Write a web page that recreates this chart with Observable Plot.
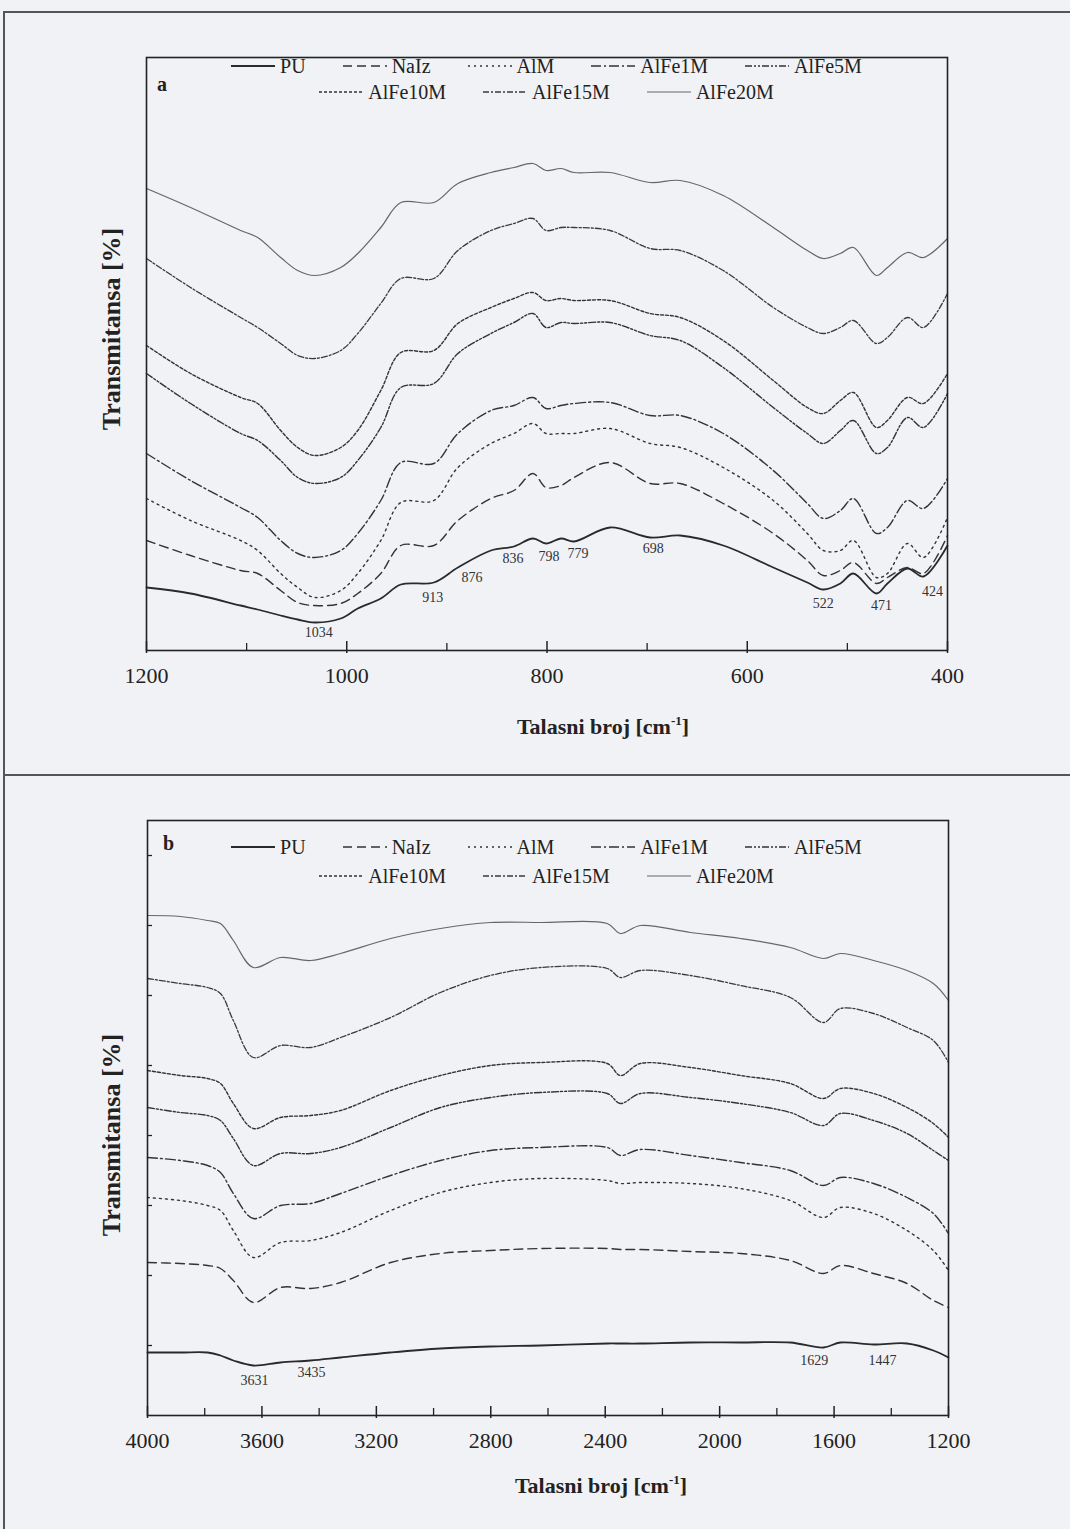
<!DOCTYPE html>
<html><head><meta charset="utf-8">
<script src="https://cdn.jsdelivr.net/npm/d3@7"></script>
<script src="https://cdn.jsdelivr.net/npm/@observablehq/plot@0.6"></script>
<style>
body{margin:0;background:#f1f2f6;}
#page{position:relative;width:1070px;height:1529px;overflow:hidden;background:#f1f2f6;font-family:"Liberation Serif","Times New Roman",serif;color:#222;}
.panel{position:absolute;left:0;width:1070px;height:760px;}
.leg{position:absolute;left:146px;width:801px;height:24px;display:flex;justify-content:center;align-items:center;gap:37px;font-size:20px;line-height:24px;}
.leg .it{display:flex;align-items:center;gap:5px;}
.ytitle{position:absolute;width:300px;text-align:center;font-weight:bold;font-size:26px;transform:rotate(-90deg);line-height:30px;}
.xtitle{position:absolute;width:400px;text-align:center;font-weight:bold;font-size:22px;line-height:26px;}
.xtitle sup{font-size:13px;vertical-align:9px;line-height:0;}
.plet{position:absolute;font-weight:bold;font-size:20px;line-height:24px;}
</style></head>
<body><div id="page"></div>
<script>
// ---------- data ----------
const seriesNames = ["PU","NaIz","AlM","AlFe1M","AlFe5M","AlFe10M","AlFe15M","AlFe20M"];

// Panel a: 1200-400 cm-1
const wnA = [1200,1156,1106,1089,1066,1049,1032,1006,989,966,946,913,889,856,833,814,801,786,773,737,697,667,624,574,540,524,507,494,471,460,440,424,400];
const PU_a     = [63,57,45,41,35,31,28,32,42,52,66,68,83,100,104,112,107,112,109,123,113,115,105,83,68,61,67,77,57,67,82,74,105];
const NaIz_a   = [110,95,80,77,60,48,45,47,57,77,105,105,130,152,160,177,163,165,173,188,167,167,147,117,90,75,80,88,67,73,83,77,115];
const AlM_a    = [152,130,110,100,77,63,53,60,77,110,148,150,183,207,217,227,217,217,217,222,207,203,183,150,117,100,100,110,73,77,107,93,133];
const AlFe1M_a = [197,170,143,133,110,97,93,100,117,150,188,187,217,240,245,253,242,245,247,248,235,235,217,180,147,132,140,152,117,123,150,142,172];
const AlFe5M_a = [277,247,217,210,190,173,167,173,190,223,263,267,297,317,328,337,323,328,327,328,315,310,283,243,217,207,220,230,197,203,233,223,257];
const AlFe10M_a= [305,277,253,247,220,203,195,203,220,260,298,300,327,343,352,358,350,352,350,350,337,333,310,270,243,237,250,258,223,230,253,247,277];
const AlFe15M_a= [392,363,333,323,307,295,292,300,317,347,372,372,400,420,427,432,420,423,423,420,402,400,380,343,323,317,323,330,307,313,333,323,357];
const AlFe20M_a= [462,443,420,413,393,380,375,383,397,423,448,448,467,478,483,487,480,482,478,478,468,470,455,423,400,392,397,403,375,383,398,393,412];

// Panel b: 4000-1200 cm-1
const wnB = [4000,3885,3790,3745,3700,3630,3535,3430,3325,3150,2976,2801,2626,2393,2347,2277,2102,1927,1753,1637,1578,1462,1345,1253,1200];
const PU_b     = [63,63,63,60,55,50,53,55,58,63,67,69,70,72,72,72,73,73,73,68,73,71,72,65,58];
const NaIz_b   = [153,152,150,147,135,113,128,127,133,153,162,165,167,167,166,166,164,162,155,142,150,142,132,115,108];
const AlM_b    = [218,215,210,205,185,158,173,175,183,205,223,233,237,235,232,233,232,227,215,198,208,202,185,165,145];
const AlFe1M_b = [258,255,250,243,222,197,210,212,222,240,255,265,268,268,260,266,260,253,245,230,238,232,218,202,182];
const AlFe5M_b = [308,303,300,295,277,250,262,262,268,288,308,318,323,322,312,322,318,312,303,290,302,295,282,265,255];
const AlFe10M_b= [345,340,337,332,312,287,298,300,305,325,340,350,353,352,340,352,348,340,332,317,327,322,308,292,278];
const AlFe15M_b= [437,432,428,422,395,358,370,368,378,398,423,440,448,447,438,445,440,430,418,393,407,402,388,375,353];
const AlFe20M_b= [500,499,495,492,475,448,458,455,462,477,487,493,493,492,482,490,483,477,468,457,462,455,445,432,415];

// peak labels
const peakTextA = ["1034","913","876","836","798","779","698","522","471","424"];
const peakXA    = [1028,914,875,834,798,769,694,524,466,415];
const peakYA    = [18,53,73,92,94,97,102,47,45,59];
const peakTextB = ["3631","3435","1629","1447"];
const peakXB    = [3626,3427,1669,1431];
const peakYB    = [35,43,55,55];

// axis ticks
const majorA = [1200,1000,800,600,400];
const minorA = [1100,900,700,500];
const majorB = [4000,3600,3200,2800,2400,2000,1600,1200];
const minorB = [3800,3400,3000,2600,2200,1800,1400];
const yTicksB = [70,140,210,280,350,420,490,560];

// ---------- styles ----------
const dashes = [null,"9,5","2,4","10,3,2,3","7,2,2,2,2,2","3,2","6,2,2,2",null];
const widths = [1.8,1.4,1.4,1.4,1.4,1.4,1.3,1.2];
const colors = ["#2a2a2a","#333","#333","#333","#333","#333","#3a3a3a","#666"];

const seriesA = [PU_a,NaIz_a,AlM_a,AlFe1M_a,AlFe5M_a,AlFe10M_a,AlFe15M_a,AlFe20M_a];
const seriesB = [PU_b,NaIz_b,AlM_b,AlFe1M_b,AlFe5M_b,AlFe10M_b,AlFe15M_b,AlFe20M_b];

function lineMarks(wn, series){
  return series.map((vals,k)=>Plot.line(wn.map((w,i)=>({wn:w,t:vals[i]})),{
    x:"wn", y:"t", curve:"catmull-rom", stroke:colors[k], strokeWidth:widths[k],
    strokeDasharray: dashes[k] || undefined
  }));
}

function makePanel(o){
  const fh = o.height - o.mt - o.mb;
  return Plot.plot({
    width:1070, height:o.height, marginLeft:o.ml, marginRight:o.mr, marginTop:o.mt, marginBottom:o.mb,
    x:{domain:o.xdom, axis:null}, y:{domain:[0,fh], axis:null},
    style:{background:"transparent", fontFamily:"'Liberation Serif', serif", color:"#222"},
    marks:[
      ...lineMarks(o.wn,o.series),
      Plot.tickX(o.minor,{x:d=>d, insetTop:fh-7, stroke:"#222", strokeWidth:1.3}),
      Plot.tickX(o.major,{x:d=>d, insetTop:fh-9, insetBottom:-3, stroke:"#222", strokeWidth:1.5}),
      ...(o.yticks ? [Plot.tickY(o.yticks,{y:d=>d, insetRight:801-5, stroke:"#222", strokeWidth:1.3})] : []),
      Plot.axisX({ticks:o.major, tickSize:0, tickPadding:17, fontSize:22, fill:"#222", tickFormat:d=>String(d)}),
      Plot.text(o.peakText.map((t,i)=>({t, x:o.peakX[i], y:o.peakY[i]})),{x:"x", y:"y", text:"t", fontSize:14, fill:"#333"}),
      Plot.frame({stroke:"#222", strokeWidth:1.6})
    ]
  });
}

const page = document.getElementById("page");

// outer scan frame
const fr = document.createElement("div");
fr.style.cssText = "position:absolute;left:3px;top:11px;width:1080px;height:1530px;border-left:2px solid #555;border-top:2px solid #555;";
page.appendChild(fr);
const dv = document.createElement("div");
dv.style.cssText = "position:absolute;left:3px;top:774px;width:1080px;height:0;border-top:2px solid #555;";
page.appendChild(dv);

const pa = makePanel({height:760, ml:146, mr:123, mt:57, mb:110, xdom:[1200,400], wn:wnA, series:seriesA,
  major:majorA, minor:minorA, peakText:peakTextA, peakX:peakXA, peakY:peakYA});
pa.classList.add("panel"); pa.style.top = "0px";
page.appendChild(pa);

const pb = makePanel({height:760, ml:147, mr:122, mt:57, mb:108, xdom:[4000,1200], wn:wnB, series:seriesB,
  major:majorB, minor:minorB, yticks:yTicksB, peakText:peakTextB, peakX:peakXB, peakY:peakYB});
pb.classList.add("panel"); pb.style.top = "763px";
page.appendChild(pb);

// legends
function legendRow(top, idx){
  const row = document.createElement("div");
  row.className = "leg"; row.style.top = top + "px";
  idx.forEach(k=>{
    const it = document.createElement("div"); it.className = "it";
    const ns = "http://www.w3.org/2000/svg";
    const s = document.createElementNS(ns,"svg");
    s.setAttribute("width","44"); s.setAttribute("height","10");
    const l = document.createElementNS(ns,"line");
    l.setAttribute("x1","0"); l.setAttribute("x2","44"); l.setAttribute("y1","5"); l.setAttribute("y2","5");
    l.setAttribute("stroke",colors[k]); l.setAttribute("stroke-width",widths[k]);
    if (dashes[k]) l.setAttribute("stroke-dasharray",dashes[k]);
    s.appendChild(l);
    const t = document.createElement("span"); t.textContent = seriesNames[k];
    it.appendChild(s); it.appendChild(t); row.appendChild(it);
  });
  page.appendChild(row);
}
legendRow(54,[0,1,2,3,4]); legendRow(80,[5,6,7]);
legendRow(835,[0,1,2,3,4]); legendRow(864,[5,6,7]);

function addDiv(cls, html, css){
  const d = document.createElement("div"); d.className = cls; d.innerHTML = html; d.style.cssText += css; page.appendChild(d);
}
addDiv("plet","a","left:157px;top:72px;");
addDiv("plet","b","left:163px;top:831px;");
addDiv("ytitle","Transmitansa [%]","left:-38px;top:314px;");
addDiv("ytitle","Transmitansa [%]","left:-38px;top:1120px;");
addDiv("xtitle","Talasni broj [cm<sup>-1</sup>]","left:403px;top:714px;");
addDiv("xtitle","Talasni broj [cm<sup>-1</sup>]","left:401px;top:1473px;");
</script>
</body></html>
